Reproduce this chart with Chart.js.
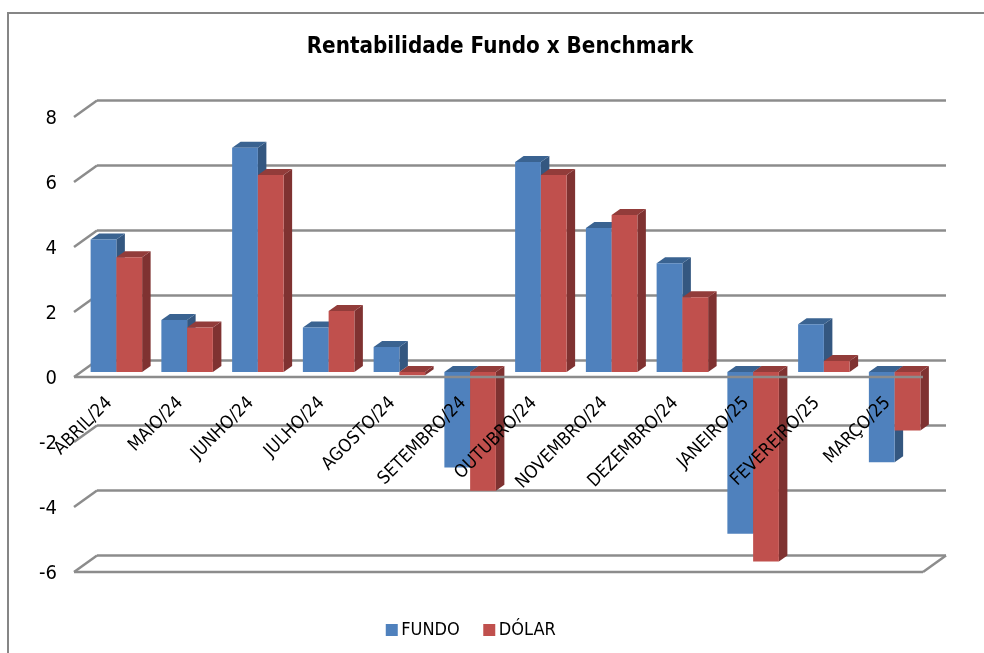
<!DOCTYPE html>
<html>
<head>
<meta charset="utf-8">
<script src="https://cdn.jsdelivr.net/npm/chart.js@4"></script>
<style>
    html, body { margin: 0; padding: 0; background: #fff; overflow: hidden; }
    #frame { position: absolute; left: 7px; top: 12px; width: 984px; height: 700px; border: 2px solid #868686; box-sizing: border-box; }
    #wrap { position: absolute; left: 0; top: 0; width: 984px; height: 653px; }
</style>
</head>
<body>
<div id="frame"></div>
<div id="wrap"><canvas id="chart"></canvas></div>
<script>
const categories = ["ABRIL/24", "MAIO/24", "JUNHO/24", "JULHO/24", "AGOSTO/24", "SETEMBRO/24",
    "OUTUBRO/24", "NOVEMBRO/24", "DEZEMBRO/24", "JANEIRO/25", "FEVEREIRO/25", "MARÇO/25"];
const fundo = [4.08, 1.6, 6.9, 1.37, 0.77, -2.94, 6.46, 4.43, 3.35, -4.98, 1.47, -2.78];
const dolar = [3.53, 1.37, 6.06, 1.88, -0.1, -3.65, 6.06, 4.83, 2.3, -5.83, 0.34, -1.8];

const font = "'DejaVu Sans Condensed', 'DejaVu Sans', sans-serif";
const gridColor = "#8c8c8c";
// depth of the back wall, and of the bars, in pixels
const wallDx = 23, wallDy = 16.5;
const barShiftX = 7, barShiftY = 5;
const barDx = 8.5, barDy = 6;

function line(ctx, x1, y1, x2, y2) {
    ctx.beginPath();
    ctx.moveTo(x1, y1);
    ctx.lineTo(x2, y2);
    ctx.stroke();
}

function poly(ctx, color, pts) {
    ctx.fillStyle = color;
    ctx.beginPath();
    pts.forEach((p, i) => i ? ctx.lineTo(p[0], p[1]) : ctx.moveTo(p[0], p[1]));
    ctx.closePath();
    ctx.fill();
}

function drawFaces(chart, index) {
    const ctx = chart.ctx;
    const ds = chart.data.datasets[index];
    chart.getDatasetMeta(index).data.forEach(bar => {
        const l = bar.x - bar.width / 2, r = bar.x + bar.width / 2;
        const t = Math.min(bar.y, bar.base), b = Math.max(bar.y, bar.base);
        poly(ctx, ds.sideColor, [[r, t], [r + barDx, t - barDy], [r + barDx, b - barDy], [r, b]]);
        poly(ctx, ds.topColor, [[l, t], [r, t], [r + barDx, t - barDy], [l + barDx, t - barDy]]);
    });
}

// Fake 3D: walls behind the bars, top and side faces on each bar
const fake3d = {
    id: "fake3d",
    afterLayout(chart) {
        // title and legend are not centred on the plot in the original
        chart.titleBlock.left += 38.5;
        chart.titleBlock.right += 38.5;
        const legend = chart.legend;
        const h = legend.bottom - legend.top;
        legend.left += 12;
        legend.right += 12;
        legend.top = 592;
        legend.bottom = 592 + h;
    },
    beforeDatasetsDraw(chart) {
        const { ctx, chartArea: a, scales: { y } } = chart;
        ctx.save();
        ctx.strokeStyle = gridColor;
        ctx.lineWidth = 2.5;
        y.ticks.forEach(t => {
            const py = y.getPixelForValue(t.value);
            line(ctx, a.left, py, a.left + wallDx, py - wallDy);
            line(ctx, a.left + wallDx, py - wallDy, a.right + wallDx, py - wallDy);
        });
        // floor at the bottom of the axis
        line(ctx, a.left, a.bottom, a.right, a.bottom);
        line(ctx, a.right, a.bottom, a.right + wallDx, a.bottom - wallDy);
        ctx.restore();
        ctx.save();
        ctx.translate(barShiftX, -barShiftY);
    },
    // Chart.js paints the first dataset last, but here DÓLAR has to sit over FUNDO
    beforeDatasetDraw(chart, args) {
        if (args.index === 1) return false;
        drawFaces(chart, 0);
    },
    afterDatasetDraw(chart, args) {
        if (args.index !== 0) return;
        drawFaces(chart, 1);
        chart.getDatasetMeta(1).data.forEach(bar => bar.draw(chart.ctx));
    },
    afterDatasetsDraw(chart) {
        const { ctx, chartArea: a, scales: { y } } = chart;
        ctx.restore();
        // the zero line runs in front of the bars
        ctx.save();
        ctx.strokeStyle = gridColor;
        ctx.lineWidth = 2.5;
        const zero = y.getPixelForValue(0);
        line(ctx, a.left, zero, a.right, zero);
        ctx.restore();
    },
};

new Chart("chart", {
    type: "bar",
    data: {
        labels: categories,
        datasets: [
            { label: "FUNDO", data: fundo, backgroundColor: "#4f81bd", topColor: "#3a6391", sideColor: "#345780", clip: false },
            { label: "DÓLAR", data: dolar, backgroundColor: "#c0504d", topColor: "#923c3a", sideColor: "#7f3231", clip: false },
        ],
    },
    options: {
        responsive: true,
        maintainAspectRatio: false,
        animation: false,
        categoryPercentage: 0.728,
        barPercentage: 1,
        layout: { padding: { left: 0, right: 61, top: 0, bottom: 24 } },
        scales: {
            x: {
                position: { y: 0 },
                grid: { display: false },
                border: { display: false },
                ticks: { color: "#000", font: { family: font, size: 18 }, minRotation: 45, maxRotation: 45, autoSkip: false, z: 1, padding: 7.5 },
            },
            y: {
                min: -6,
                max: 8,
                afterFit(scale) { scale.width = 74; },
                grid: { display: false, drawTicks: false },
                border: { display: false },
                ticks: { color: "#000", stepSize: 2, font: { family: font, size: 20 }, padding: 17, labelOffset: 2 },
            },
        },
        plugins: {
            title: {
                display: true,
                text: "Rentabilidade Fundo x Benchmark",
                color: "#000",
                font: { family: font, size: 22.25, weight: "bold" },
                padding: { top: 34, bottom: 56.3 },
            },
            legend: {
                position: "bottom",
                labels: {
                    color: "#000",
                    font: { family: font, size: 18 },
                    boxWidth: 1,
                    boxHeight: 1,
                    padding: 29,
                    // thick stroke round a 1px box: keeps the swatch close to its text
                    generateLabels: chart => chart.data.datasets.map((ds, i) => ({
                        text: ds.label,
                        fillStyle: ds.backgroundColor,
                        strokeStyle: ds.backgroundColor,
                        lineWidth: 11,
                        datasetIndex: i,
                    })),
                },
            },
            tooltip: { enabled: false },
        },
    },
    plugins: [fake3d],
});
</script>
</body>
</html>
